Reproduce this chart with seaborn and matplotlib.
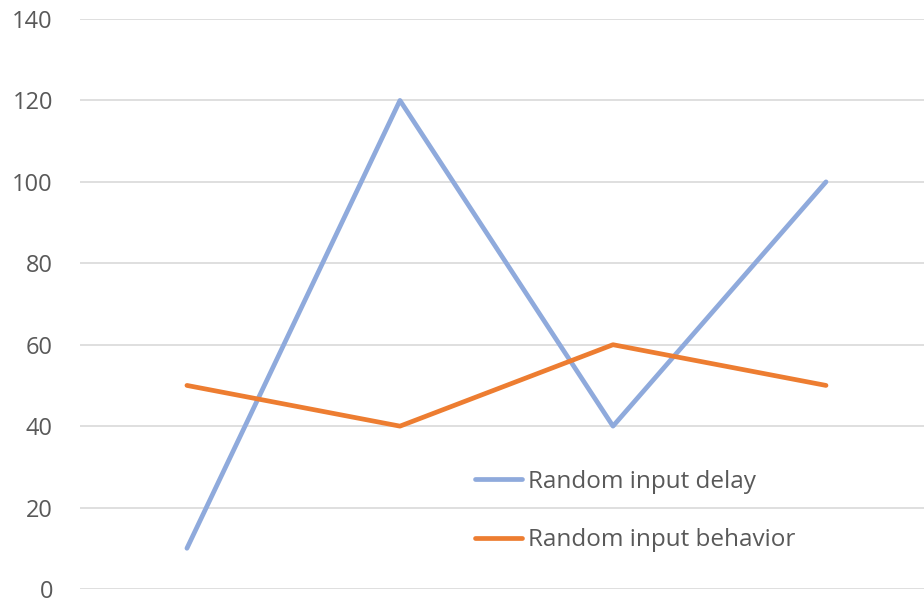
import matplotlib
matplotlib.use("Agg")
import matplotlib.pyplot as plt
import seaborn as sns
import pandas as pd

categories = ["1", "2", "3", "4"]
delay = [10, 120, 40, 100]
behavior = [50, 40, 60, 50]
series_names = ["Random input delay", "Random input behavior"]
yticks = [0, 20, 40, 60, 80, 100, 120, 140]

sns.set_theme(style="white")
plt.rcParams["font.family"] = ["Open Sans", "DejaVu Sans"]

df = pd.DataFrame({
    "x": list(range(len(categories))) * 2,
    "value": delay + behavior,
    "series": [series_names[0]] * len(delay) + [series_names[1]] * len(behavior),
})

fig = plt.figure(figsize=(9.24, 6.02), dpi=100)
W, H = 924, 602
ax = fig.add_axes([80 / W, (602 - 589) / H, (924 - 80) / W, (589 - 19) / H])

palette = {series_names[0]: "#8FAADC", series_names[1]: "#ED7D31"}
sns.lineplot(data=df, x="x", y="value", hue="series", palette=palette,
             linewidth=3.4, ax=ax, legend=False, solid_capstyle="round",
             hue_order=series_names)

ax.set_ylim(0, 140)
ax.set_xlim(-0.502, 3.46)
ax.set_yticks(yticks)
ax.set_xticks([])
ax.set_xlabel("")
ax.set_ylabel("")
ax.yaxis.grid(True, color="#D9D9D9", linewidth=1.2)
ax.set_axisbelow(True)
for s in ax.spines.values():
    s.set_visible(False)
ax.tick_params(axis="y", length=0, pad=19.5, labelsize=17, labelcolor="#595959")

from matplotlib.lines import Line2D
handles = [Line2D([0], [0], color=palette[n], linewidth=3.4, solid_capstyle="round") for n in series_names]
leg = ax.legend(handles, series_names, loc="upper left",
                bbox_to_anchor=((475 - 80) / (924 - 80), (589 - 470) / 570),
                frameon=False, fontsize=17.5, handlelength=1.93, handletextpad=0.25,
                labelspacing=1.4, borderpad=0, borderaxespad=0)
for t in leg.get_texts():
    t.set_color("#595959")

fig.savefig("out.png", dpi=100)
